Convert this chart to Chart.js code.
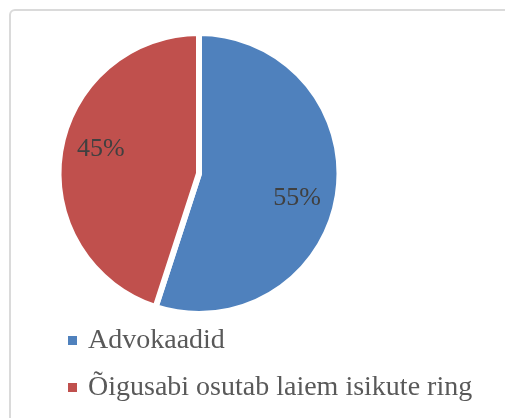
<!DOCTYPE html>
<html>
<head>
<meta charset="utf-8">
<script src="https://cdn.jsdelivr.net/npm/chart.js@4/dist/chart.umd.min.js"></script>
<style>
  html, body { margin: 0; padding: 0; background: #fff; overflow: hidden; }
  #wrap { position: relative; width: 505px; height: 418px; }
  #frame {
    position: absolute; left: 9px; top: 9px; width: 620px; height: 520px;
    border: 2px solid #dadada; border-radius: 6px;
  }
  #chart { position: absolute; left: 0; top: 0; }
</style>
</head>
<body>
<div id="wrap">
  <div id="frame"></div>
  <canvas id="chart" width="505" height="418"></canvas>
</div>
<script>
const categories = ['Advokaadid', 'Õigusabi osutab laiem isikute ring'];
const shares = [55, 45];
const sliceColors = ['#4F81BD', '#C0504D'];

// small colour square for the legend
function swatch(color) {
  const c = document.createElement('canvas');
  c.width = 9;
  c.height = 9;
  const g = c.getContext('2d');
  g.fillStyle = color;
  g.fillRect(0, 0, 9, 9);
  return c;
}

// percentage labels inside the slices
const sliceLabels = {
  id: 'sliceLabels',
  afterDatasetsDraw(chart) {
    const ctx = chart.ctx;
    const meta = chart.getDatasetMeta(0);
    const total = shares.reduce((a, b) => a + b, 0);
    ctx.save();
    ctx.font = '26px "Liberation Serif"';
    ctx.fillStyle = '#404040';
    ctx.textAlign = 'center';
    ctx.textBaseline = 'middle';
    meta.data.forEach((arc, i) => {
      const p = arc.getProps(['x', 'y', 'startAngle', 'endAngle', 'outerRadius']);
      const mid = (p.startAngle + p.endAngle) / 2 + 0.09;
      const r = p.outerRadius * 0.72;
      const pct = Math.round(shares[i] / total * 100) + '%';
      ctx.fillText(pct, p.x + Math.cos(mid) * r, p.y + Math.sin(mid) * r);
    });
    ctx.restore();
  }
};

new Chart(document.getElementById('chart'), {
  type: 'pie',
  data: {
    labels: categories,
    datasets: [{
      data: shares,
      backgroundColor: sliceColors,
      borderColor: '#ffffff',
      borderWidth: 6,
      radius: 140.5,
      clip: false
    }]
  },
  options: {
    responsive: false,
    animation: false,
    layout: {
      padding: { top: 39.5, left: 52, right: 0, bottom: 6.5 }
    },
    plugins: {
      tooltip: { enabled: false },
      // empty title on the right keeps the pie left of centre, legend stays full width
      title: {
        display: true,
        position: 'right',
        text: ' ',
        font: { size: 10 },
        padding: { top: 0, bottom: 147 }
      },
      legend: {
        position: 'bottom',
        align: 'start',
        labels: {
          usePointStyle: true,
          boxWidth: 3,
          boxHeight: 9,
          padding: 19,
          color: '#595959',
          font: { family: 'Liberation Serif', size: 28 },
          generateLabels: () => categories.map((name, i) => ({
            text: name,
            fillStyle: sliceColors[i],
            strokeStyle: sliceColors[i],
            lineWidth: 0,
            pointStyle: swatch(sliceColors[i]),
            fontColor: '#595959',
            hidden: false,
            index: i
          }))
        }
      }
    }
  },
  plugins: [sliceLabels]
});
</script>
</body>
</html>
